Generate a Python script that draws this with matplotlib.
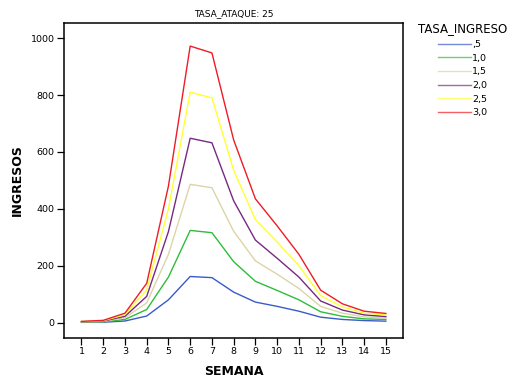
import matplotlib.pyplot as plt

semana = list(range(1, 16))
tasas = [",5", "1,0", "1,5", "2,0", "2,5", "3,0"]
colores = ["#3a5bc7", "#2ebd3a", "#dcd4a8", "#762a83", "#ffff33", "#ee1c25"]

ingresos_05 = [0.7, 1.3, 5.5, 23, 80, 162, 158, 107, 72, 57, 40, 19, 11, 7, 5]
ingresos_10 = [1.4, 2.6, 11, 46, 160, 324, 316, 214, 145, 113, 80, 38, 22, 13, 11]
ingresos_15 = [2.1, 3.9, 17, 69, 240, 486, 474, 321, 217, 170, 120, 57, 33, 20, 16]
ingresos_20 = [2.8, 5.2, 22, 92, 320, 648, 632, 428, 290, 226, 160, 76, 44, 27, 21]
ingresos_25 = [3.5, 6.5, 28, 115, 400, 810, 790, 535, 362, 283, 200, 95, 55, 33, 27]
ingresos_30 = [4.2, 7.8, 33, 138, 480, 972, 948, 642, 435, 340, 240, 114, 66, 40, 32]
series = [ingresos_05, ingresos_10, ingresos_15, ingresos_20, ingresos_25, ingresos_30]

fig = plt.figure(figsize=(5.21, 3.78), dpi=100)
ax = fig.add_axes([0.123, 0.106, 0.651, 0.833])

for vals, col, lab in zip(series, colores, tasas):
    ax.plot(semana, vals, color=col, lw=1.0, label=lab)

ax.set_xlim(0.2, 15.8)
ax.set_ylim(-54, 1053)
ax.set_xticks(semana)
ax.set_yticks([0, 200, 400, 600, 800, 1000])
ax.tick_params(labelsize=6.8, length=5, width=0.9, pad=1.8)
for s in ax.spines.values():
    s.set_linewidth(1.1)

ax.set_xlabel("SEMANA", fontsize=9, fontweight="bold", labelpad=6)
ax.set_ylabel("INGRESOS", fontsize=9, fontweight="bold", labelpad=5)
ax.set_title("TASA_ATAQUE: 25", fontsize=6.5, pad=5)

leg = ax.legend(title="TASA_INGRESO", loc="upper left", bbox_to_anchor=(1.018, 1.03),
                frameon=False, fontsize=6.8, title_fontsize=8.5, handlelength=3.5,
                handletextpad=0.1, labelspacing=0.5)
for line in leg.get_lines():
    line.set_alpha(0.7)

fig.savefig("out.png", dpi=100)
